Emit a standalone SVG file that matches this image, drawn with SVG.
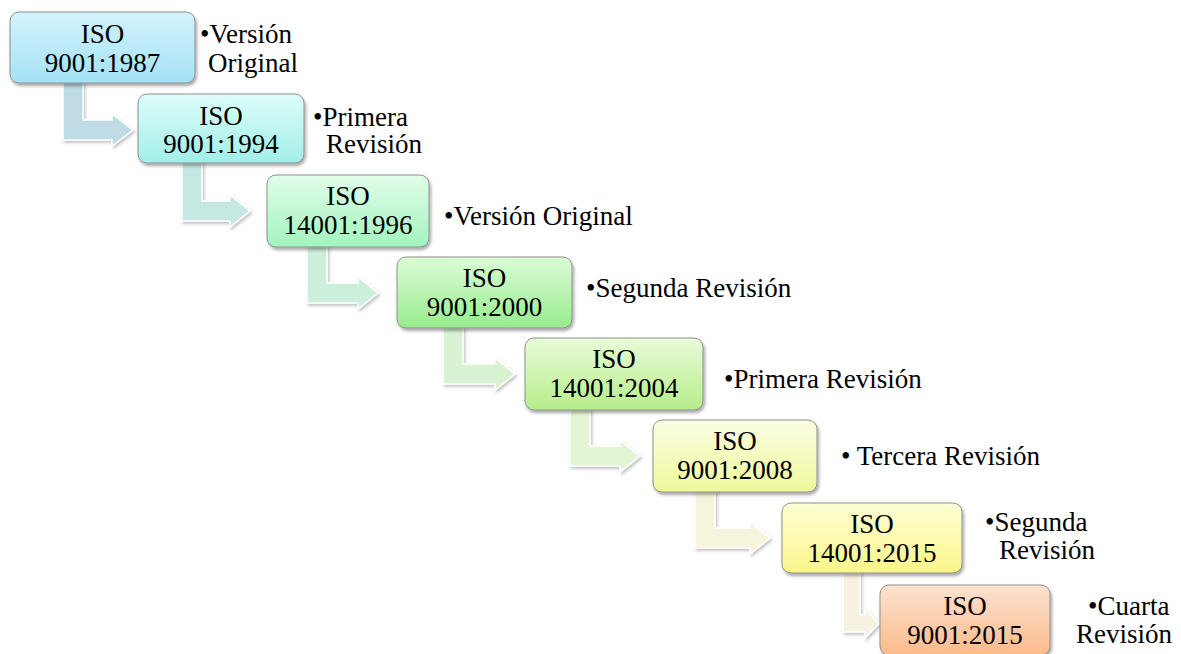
<svg xmlns="http://www.w3.org/2000/svg" width="1181" height="654" viewBox="0 0 1181 654">
<defs>
<filter id="sh" x="-10%" y="-10%" width="130%" height="140%"><feDropShadow dx="1.5" dy="2.5" stdDeviation="1.8" flood-color="#000" flood-opacity="0.35"/></filter>
<filter id="ash" x="-20%" y="-20%" width="150%" height="150%"><feDropShadow dx="1.5" dy="2" stdDeviation="1.5" flood-color="#000" flood-opacity="0.25"/></filter>
<linearGradient id="g1" x1="0" y1="0" x2="0" y2="1"><stop offset="0" stop-color="#d4f3fc"/><stop offset="1" stop-color="#a3e2f6"/></linearGradient>
<linearGradient id="g2" x1="0" y1="0" x2="0" y2="1"><stop offset="0" stop-color="#dcfdfa"/><stop offset="1" stop-color="#a2efe8"/></linearGradient>
<linearGradient id="g3" x1="0" y1="0" x2="0" y2="1"><stop offset="0" stop-color="#e0fde9"/><stop offset="1" stop-color="#a2f4be"/></linearGradient>
<linearGradient id="g4" x1="0" y1="0" x2="0" y2="1"><stop offset="0" stop-color="#dbfcd6"/><stop offset="1" stop-color="#97ec8e"/></linearGradient>
<linearGradient id="g5" x1="0" y1="0" x2="0" y2="1"><stop offset="0" stop-color="#e9fbd8"/><stop offset="1" stop-color="#b6ee8a"/></linearGradient>
<linearGradient id="g6" x1="0" y1="0" x2="0" y2="1"><stop offset="0" stop-color="#fbfde2"/><stop offset="1" stop-color="#eff99a"/></linearGradient>
<linearGradient id="g7" x1="0" y1="0" x2="0" y2="1"><stop offset="0" stop-color="#fefed4"/><stop offset="1" stop-color="#fbf68a"/></linearGradient>
<linearGradient id="g8" x1="0" y1="0" x2="0" y2="1"><stop offset="0" stop-color="#fde2d0"/><stop offset="1" stop-color="#fbbb8b"/></linearGradient>
</defs>
<style>
.box{stroke:#8f8f8f;stroke-width:1;filter:url(#sh)}
.arr{stroke:#ffffff;stroke-width:1.5;filter:url(#ash)}
.t{font-family:'Liberation Serif','Tinos','DejaVu Serif',serif;font-size:27px;fill:#000}
.c{text-anchor:middle}
</style>
<g id="connectors">
<path class="arr" fill="#bfdbe5" d="M63,80 H83 V120 H112 V114 L133,130 L112,146 V140 H63 Z"/>
<path class="arr" fill="#c5e8e3" d="M182,160 H202 V201 H230 V195 L250,211 L230,227 V221 H182 Z"/>
<path class="arr" fill="#cdeedb" d="M307,245 H327 V283 H358 V277 L378,293 L358,309 V303 H307 Z"/>
<path class="arr" fill="#d8f2d3" d="M443,325 H463 V364 H495 V358 L515,374 L495,390 V384 H443 Z"/>
<path class="arr" fill="#e4f5d6" d="M570,408 H590 V446 H620 V440 L640,456 L620,472 V466 H570 Z"/>
<path class="arr" fill="#f4f5dc" d="M695,490 H715 V528 H750 V522 L770,538 L750,554 V548 H695 Z"/>
<path class="arr" fill="#f6f1e1" d="M843,571 H860 V615 H865 V609 L879,623.5 L865,638 V632 H843 Z"/>
</g>
<g class="t" font-family="Liberation Serif, Tinos, DejaVu Serif, serif">
<g id="n1"><rect class="box" x="10" y="12" width="185" height="71" rx="9" fill="url(#g1)"/><text class="c" x="102.5" y="43">ISO</text><text class="c" x="102.5" y="72">9001:1987</text></g>
<g id="n2"><rect class="box" x="138" y="94" width="166" height="69" rx="9" fill="url(#g2)"/><text class="c" x="221" y="125">ISO</text><text class="c" x="221" y="153">9001:1994</text></g>
<g id="n3"><rect class="box" x="267" y="175" width="162" height="72" rx="9" fill="url(#g3)"/><text class="c" x="348" y="205">ISO</text><text class="c" x="348" y="234">14001:1996</text></g>
<g id="n4"><rect class="box" x="397" y="257" width="175" height="71" rx="9" fill="url(#g4)"/><text class="c" x="484.5" y="287">ISO</text><text class="c" x="484.5" y="316">9001:2000</text></g>
<g id="n5"><rect class="box" x="525" y="338" width="178" height="72" rx="9" fill="url(#g5)"/><text class="c" x="614" y="368">ISO</text><text class="c" x="614" y="397">14001:2004</text></g>
<g id="n6"><rect class="box" x="653" y="420" width="164" height="72" rx="9" fill="url(#g6)"/><text class="c" x="735" y="450">ISO</text><text class="c" x="735" y="479">9001:2008</text></g>
<g id="n7"><rect class="box" x="782" y="503" width="180" height="70" rx="9" fill="url(#g7)"/><text class="c" x="872" y="533">ISO</text><text class="c" x="872" y="562">14001:2015</text></g>
<g id="n8"><rect class="box" x="880" y="585" width="170" height="70" rx="9" fill="url(#g8)"/><text class="c" x="965" y="615">ISO</text><text class="c" x="965" y="644">9001:2015</text></g>
<g id="labels">
<text x="200" y="43">•Versión</text><text x="208" y="72">Original</text>
<text x="313" y="126">•Primera</text><text x="326" y="153">Revisión</text>
<text x="444" y="225">•Versión Original</text>
<text x="586" y="297">•Segunda Revisión</text>
<text x="724" y="388">•Primera Revisión</text>
<text x="841" y="465">• Tercera Revisión</text>
<text x="985" y="531">•Segunda</text><text x="999" y="559">Revisión</text>
<text x="1088" y="615">•Cuarta</text><text x="1076" y="643">Revisión</text>
</g>
</g>
</svg>
